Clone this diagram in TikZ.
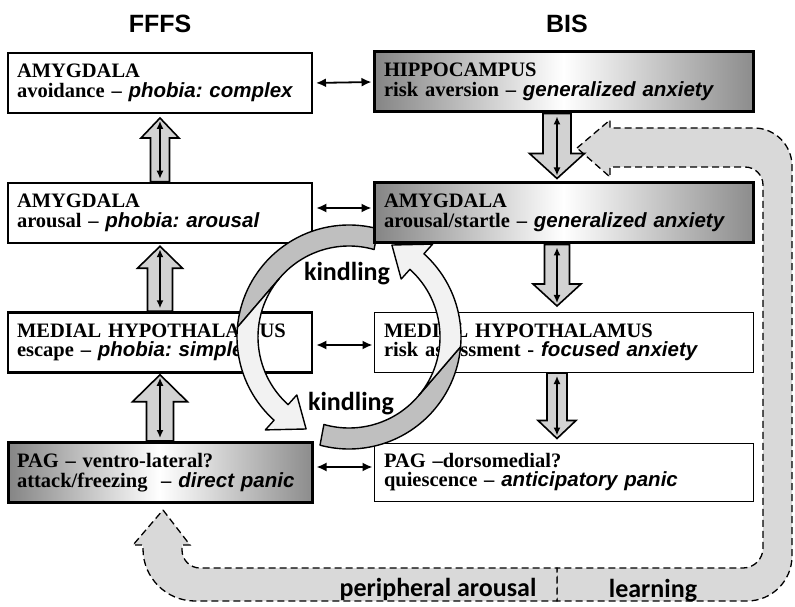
\documentclass[tikz,border=0pt]{standalone}
\usepackage{fontspec}
\setmainfont{Liberation Serif}
\newfontfamily\arialfont{Liberation Sans}
\newfontfamily\calibrifont{Carlito}
\usetikzlibrary{arrows.meta,calc}
\frenchspacing

\newcommand{\emo}[1]{{\arialfont\itshape #1}}
% block arrow: tail, tip, half shaft, half head, head length (negative when it points down)
\newcommand{\blockarrow}[5]{%
  \draw[blockfill] let \p1=(#1), \p2=(#2) in
    (\x2,\y2) -- ({\x2+#4},{\y2-(#5)}) -- ({\x2+#3},{\y2-(#5)}) -- ({\x2+#3},\y1)
    -- ({\x2-#3},\y1) -- ({\x2-#3},{\y2-(#5)}) -- ({\x2-#4},{\y2-(#5)}) -- cycle;
  \draw[thinarrow] let \p1=(#1), \p2=(#2) in (\x2,\y1) -- (\x2,\y2);
}

\begin{document}
\begin{tikzpicture}[x=1pt,y=1pt,
  box/.style={draw, line width=2pt, minimum height=60pt, align=left, inner xsep=9pt, inner ysep=0pt,
    font=\fontsize{20.5}{19.5}\selectfont\bfseries},
  lbox/.style={box, text width=286pt},
  rbox/.style={box, inner xsep=10pt, text width=359pt},
  shaded/.style={left color=black!48, right color=black!45, middle color=white},
  biarrow/.style={{Latex[length=10pt,width=9pt]}-{Latex[length=10pt,width=9pt]}, line width=1.8pt,
    shorten <=3pt, shorten >=1pt},
  thinarrow/.style={{Latex[length=8pt,width=7pt]}-{Latex[length=8pt,width=7pt]}, line width=1.5pt,
    shorten <=3pt, shorten >=3pt},
  blockfill/.style={fill=gray!35, draw=black, line width=1.6pt},
  loopband/.style={fill=gray!30, draw=black, line width=1.3pt, dash pattern=on 7pt off 4pt},
  kindlegray/.style={fill=gray!50, draw=black, line width=1.4pt, line join=round},
  kindlewhite/.style={fill=gray!10, draw=black, line width=1.4pt, line join=round},
  title/.style={font=\arialfont\bfseries\fontsize{25}{25}\selectfont, anchor=base},
  bandtext/.style={font=\calibrifont\bfseries\fontsize{26}{26}\selectfont, anchor=base}]
\useasboundingbox (0,0) rectangle (795,606);

% Feedback loops
\draw[loopband] (577,458) -- (610,486) -- (610,478) -- (754,478)
  arc[start angle=90, end angle=0, radius=38] -- (792,50)
  arc[start angle=0, end angle=-90, radius=45] -- (557,5) -- (557,38) -- (743,38)
  arc[start angle=-90, end angle=0, radius=20] -- (763,421)
  arc[start angle=0, end angle=90, radius=18] -- (610,439) -- (610,429) -- cycle;
\draw[loopband] (163,96) -- (190,61) -- (182,61) -- (182,56)
  arc[start angle=180, end angle=270, radius=18] -- (557,38) -- (557,5) -- (195,5)
  arc[start angle=270, end angle=180, radius=52] -- (143,61) -- (133,61) -- cycle;
\node[bandtext] (periph) at (438,10) {peripheral arousal};
\node[bandtext] (learn) at (653,9) {learning};

% Column titles
\node[title] (fffs) at (160,573) {FFFS};
\node[title] (bis) at (567,573) {BIS};

% Left column top to bottom
\node[lbox] (amygAv) at (160,523) {AMYGDALA\\avoidance -- \emo{phobia: complex}};
\node[lbox, line width=2.5pt] (amygAr) at (160,393) {AMYGDALA\\arousal -- \emo{phobia: arousal}};
\node[lbox, line width=2.5pt] (hypoL) at (160,263.5) {MEDIAL HYPOTHALAMUS\\escape -- \emo{phobia: simple}};
\node[lbox, shaded, line width=3pt] (pagL) at (160,133.5) {PAG -- ventro-lateral?\\attack/freezing~ -- \emo{direct panic}};

% Right column top to bottom
\node[rbox, shaded, line width=3pt] (hippo) at (563.5,524) {HIPPOCAMPUS\\risk aversion -- \emo{generalized anxiety}};
\node[rbox, line width=1pt] (hypoR) at (563.5,263.5) {MEDIAL HYPOTHALAMUS\\risk assessment - \emo{focused anxiety}};
\node[rbox, line width=1pt, minimum height=58pt] (pagR) at (563.5,134) {PAG --dorsomedial?\\quiescence -- \emo{anticipatory panic}};

% Kindling circle
\begin{scope}[shift={(349,269)}]
\foreach \r in {0,180}{
  \begin{scope}[rotate=\r]
  \draw[kindlegray] (75:112) arc[start angle=75, end angle=175, radius=112]
    -- (140:91) arc[start angle=140, end angle=74, radius=91] -- cycle;
  \draw[kindlewhite] (140:91) -- (175:112) arc[start angle=175, end angle=228, radius=112]
    -- (228:125) -- (245:101.5) -- (228:78) -- (228:91)
    arc[start angle=228, end angle=140, radius=91] -- cycle;
  \end{scope}
}
\end{scope}
\node[bandtext] (kindleTop) at (347,325) {kindling};
\node[bandtext] (kindleBot) at (351,196) {kindling};

\node[rbox, shaded, line width=3pt] (amygSt) at (563.5,393) {AMYGDALA\\arousal/startle -- \emo{generalized anxiety}};

% Links between the columns
\draw[biarrow] (amygAv.east) -- (hippo.west);
\draw[biarrow] ([yshift=5pt]amygAr.east) -- ([yshift=5pt]amygSt.west);
\draw[biarrow] ([yshift=-2.5pt]hypoL.east) -- ([yshift=-2.5pt]hypoR.west);
\draw[biarrow] ([yshift=5.5pt]pagL.east) -- ([yshift=5pt]pagR.west);

% Links within the columns
\blockarrow{amygAr.north}{[yshift=-4pt]amygAv.south}{9.5pt}{19pt}{20pt}
\blockarrow{hypoL.north}{[yshift=-2pt]amygAr.south}{12.5pt}{22.5pt}{22pt}
\blockarrow{pagL.north}{[yshift=-1pt]hypoL.south}{13.5pt}{27.5pt}{27pt}
\blockarrow{hippo.south}{[xshift=-6.5pt,yshift=3pt]amygSt.north}{14pt}{27.5pt}{-25pt}
\blockarrow{amygSt.south}{[xshift=-6.5pt,yshift=6pt]hypoR.north}{12.5pt}{24pt}{-22pt}
\blockarrow{hypoR.south}{[xshift=-6.5pt,yshift=4pt]pagR.north}{10pt}{19pt}{-18pt}
\end{tikzpicture}
\end{document}
